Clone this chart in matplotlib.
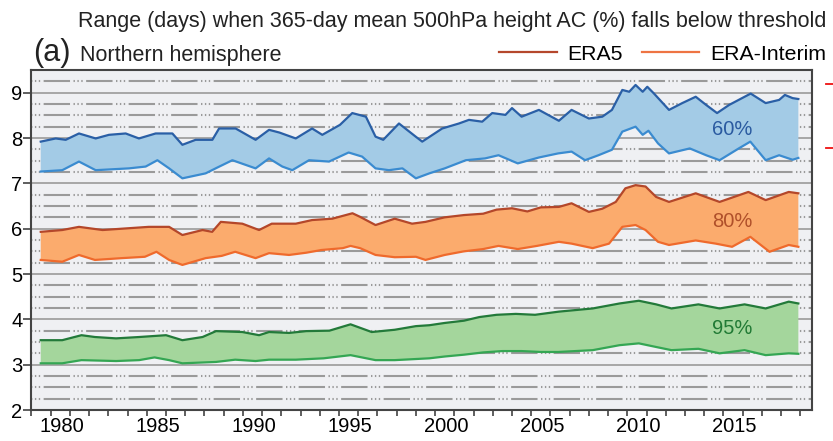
import numpy as np
import matplotlib
matplotlib.use("Agg")
import matplotlib.pyplot as plt
from matplotlib.lines import Line2D

plt.rcParams['font.family'] = ['Liberation Sans', 'DejaVu Sans']
plt.rcParams['lines.scale_dashes'] = False

# ---------------- data ----------------
# 60 % threshold
yr60_era5 = [1979.48, 1980.26, 1980.78, 1981.47, 1982.34, 1983.03, 1983.9, 1984.59, 1985.46, 1986.33,
             1986.85, 1987.54, 1988.41, 1988.76, 1989.62, 1990.66, 1991.36, 1991.9, 1992.75, 1993.6,
             1994.13, 1995.05, 1995.69, 1996.4, 1996.9, 1997.3, 1998.12, 1998.99, 1999.33, 2000.37,
             2001.24, 2001.76, 2002.45, 2002.97, 2003.66, 2004.0, 2004.5, 2005.4, 2006.44, 2007.1,
             2008.0, 2008.7, 2009.2, 2009.74, 2010.1, 2010.43, 2010.8, 2011.04, 2011.39, 2012.17,
             2012.86, 2013.56, 2014.1, 2014.67, 2015.3, 2016.42, 2017.2, 2017.9, 2018.2, 2018.6, 2018.9]
val60_era5 = [7.92, 7.99, 7.96, 8.10, 7.99, 8.07, 8.10, 7.99, 8.10, 8.10,
              7.85, 7.96, 7.96, 8.21, 8.21, 7.96, 8.18, 8.12, 7.99, 8.21,
              8.07, 8.29, 8.55, 8.47, 8.03, 7.96, 8.32, 8.03, 7.92, 8.21,
              8.32, 8.40, 8.36, 8.55, 8.51, 8.66, 8.47, 8.62, 8.38, 8.62,
              8.43, 8.47, 8.62, 9.06, 9.02, 9.17, 9.02, 9.13, 8.98, 8.62,
              8.77, 8.91, 8.73, 8.55, 8.73, 8.98, 8.77, 8.84, 8.95, 8.88, 8.86]
yr60_erai = [1979.48, 1980.6, 1981.47, 1982.34, 1984.07, 1984.94, 1985.55, 1986.16, 1986.85, 1988.06,
             1988.58, 1989.45, 1990.66, 1991.36, 1992.05, 1992.57, 1993.44, 1994.48, 1995.5, 1996.2,
             1996.9, 1997.6, 1998.3, 1999.0, 1999.7, 2000.5, 2001.6, 2002.6, 2003.3, 2004.3,
             2005.4, 2006.4, 2007.1, 2007.8, 2008.5, 2009.2, 2009.74, 2010.43, 2010.8, 2011.1,
             2011.6, 2012.17, 2013.25, 2014.1, 2014.8, 2015.8, 2016.4, 2017.2, 2017.9, 2018.6, 2018.9]
val60_erai = [7.26, 7.29, 7.48, 7.29, 7.33, 7.37, 7.51, 7.33, 7.11, 7.22,
              7.33, 7.51, 7.33, 7.55, 7.37, 7.29, 7.51, 7.48, 7.68, 7.59,
              7.33, 7.29, 7.33, 7.11, 7.22, 7.33, 7.51, 7.55, 7.62, 7.44,
              7.57, 7.66, 7.70, 7.51, 7.62, 7.74, 8.14, 8.25, 8.07, 8.16,
              7.88, 7.66, 7.77, 7.62, 7.51, 7.77, 7.92, 7.51, 7.62, 7.52, 7.56]

# 80 % threshold
yr80_era5 = [1979.48, 1980.6, 1981.47, 1982.7, 1984.07, 1985.1, 1986.16, 1986.85, 1987.9, 1988.4,
             1988.85, 1989.97, 1990.84, 1991.5, 1992.75, 1993.6, 1994.65, 1995.7, 1996.1, 1996.9,
             1997.9, 1998.8, 1999.5, 2000.5, 2001.5, 2002.5, 2003.2, 2004.0, 2004.8, 2005.5,
             2006.44, 2007.1, 2008.0, 2008.7, 2009.4, 2009.9, 2010.43, 2010.95, 2011.5, 2012.17,
             2013.56, 2014.8, 2016.3, 2017.2, 2018.4, 2018.9]
val80_era5 = [5.93, 5.97, 6.04, 5.97, 6.01, 6.04, 6.04, 5.86, 5.97, 5.93,
              6.15, 6.11, 5.97, 6.11, 6.11, 6.19, 6.22, 6.34, 6.26, 6.08,
              6.22, 6.11, 6.15, 6.25, 6.30, 6.33, 6.42, 6.45, 6.38, 6.47,
              6.48, 6.56, 6.37, 6.44, 6.59, 6.89, 6.96, 6.93, 6.70, 6.59,
              6.78, 6.59, 6.81, 6.63, 6.81, 6.78]
yr80_erai = [1979.48, 1980.6, 1981.47, 1982.3, 1983.7, 1984.9, 1985.5, 1986.16, 1986.85, 1988.06,
             1988.9, 1989.6, 1990.66, 1991.36, 1992.4, 1993.3, 1994.1, 1995.2, 1995.6, 1996.1,
             1996.9, 1997.9, 1999.0, 1999.5, 2000.5, 2001.5, 2002.5, 2003.3, 2004.3, 2005.3,
             2006.44, 2007.1, 2008.2, 2009.05, 2009.74, 2010.43, 2010.95, 2011.6, 2012.17, 2013.56,
             2014.6, 2015.45, 2016.4, 2017.4, 2018.4, 2018.9]
val80_erai = [5.31, 5.27, 5.42, 5.31, 5.35, 5.38, 5.49, 5.31, 5.20, 5.35,
              5.40, 5.49, 5.35, 5.46, 5.42, 5.47, 5.53, 5.57, 5.62, 5.57,
              5.42, 5.37, 5.38, 5.31, 5.42, 5.50, 5.55, 5.62, 5.55, 5.62,
              5.71, 5.67, 5.57, 5.67, 6.04, 6.08, 5.97, 5.71, 5.64, 5.74,
              5.67, 5.60, 5.82, 5.49, 5.64, 5.60]

# 95 % threshold
yr95_era5 = [1979.48, 1980.6, 1981.6, 1982.3, 1983.4, 1984.6, 1986.0, 1986.85, 1987.9, 1988.6,
             1989.97, 1990.84, 1991.36, 1992.4, 1993.3, 1994.5, 1995.6, 1996.7, 1997.9, 1999.0,
             1999.7, 2000.5, 2001.5, 2002.3, 2003.2, 2004.2, 2005.2, 2006.44, 2008.2, 2009.6,
             2010.6, 2011.5, 2012.3, 2013.7, 2014.8, 2016.1, 2017.2, 2018.4, 2018.9]
val95_era5 = [3.54, 3.54, 3.65, 3.61, 3.58, 3.61, 3.65, 3.54, 3.61, 3.74,
              3.72, 3.65, 3.72, 3.70, 3.74, 3.75, 3.89, 3.72, 3.77, 3.85,
              3.87, 3.92, 3.97, 4.05, 4.10, 4.12, 4.10, 4.17, 4.24, 4.35,
              4.41, 4.33, 4.24, 4.33, 4.24, 4.33, 4.24, 4.39, 4.35]
yr95_erai = [1979.48, 1980.6, 1981.6, 1983.4, 1984.6, 1985.4, 1986.16, 1986.85, 1988.6, 1989.6,
             1990.66, 1991.36, 1992.75, 1994.2, 1995.6, 1996.9, 1997.9, 1999.7, 2000.5, 2001.5,
             2002.5, 2003.5, 2004.5, 2005.5, 2006.4, 2008.2, 2009.6, 2010.6, 2011.5, 2012.3,
             2013.7, 2014.8, 2016.1, 2017.2, 2018.4, 2018.9]
val95_erai = [3.03, 3.03, 3.10, 3.08, 3.10, 3.16, 3.10, 3.03, 3.06, 3.11,
              3.08, 3.11, 3.11, 3.14, 3.21, 3.10, 3.10, 3.14, 3.18, 3.22,
              3.27, 3.30, 3.30, 3.28, 3.28, 3.32, 3.43, 3.47, 3.39, 3.32,
              3.35, 3.25, 3.32, 3.21, 3.25, 3.24]

band_labels = ['60%', '80%', '95%']
label_year = 2015.45
label_values = [8.18, 6.15, 3.80]
year_labels = [1980, 1985, 1990, 1995, 2000, 2005, 2010, 2015]
yticks = [2, 3, 4, 5, 6, 7, 8, 9]
legend_names = ['ERA5', 'ERA-Interim']

# ---------------- styling ----------------
bands = [
    (yr60_era5, val60_era5, yr60_erai, val60_erai, '#a3cbe6', '#2a5fa6', '#3a8bd0', '#2a5aa0'),
    (yr80_era5, val80_era5, yr80_erai, val80_erai, '#fbab6d', '#b4472a', '#ef6a2c', '#b0502a'),
    (yr95_era5, val95_era5, yr95_erai, val95_erai, '#a4d69c', '#237a3a', '#34a653', '#217a35'),
]

fig = plt.figure(figsize=(8.33, 4.41), dpi=100)
ax = fig.add_axes([31.5 / 833, 1 - 410 / 441, 780.5 / 833, 340 / 441])
ax.set_facecolor('#eff0f3')

for (xu, yu, xl, yl, fc, cu, cl, tc), lab, ly in zip(bands, band_labels, label_values):
    ax.fill(np.concatenate([xu, xl[::-1]]), np.concatenate([yu, yl[::-1]]),
            color=fc, lw=0, zorder=2)
    ax.plot(xl, yl, color=cl, lw=1.6, zorder=3, solid_joinstyle='round')
    ax.plot(xu, yu, color=cu, lw=1.6, zorder=3, solid_joinstyle='round')
    ax.text(label_year, ly, lab, color=tc, fontsize=14.5, ha='center', va='center', zorder=4)

ax.set_xlim(1979.0, 2019.61)
ax.set_ylim(2, 9.5)

# y axis
ax.set_yticks(yticks)
ax.set_yticks(np.arange(2.25, 9.5, 0.25), minor=True)
ax.tick_params(axis='y', which='major', direction='out', length=5.5, width=1.1,
               color='#333333', labelsize=14.5, pad=1)
ax.tick_params(axis='y', which='minor', length=0)
ax.grid(axis='y', which='major', color='#9a9a9a', lw=1.2, ls='-', zorder=0)
ax.grid(axis='y', which='minor', color='#9a9a9a', lw=1.5,
        ls=(0, (1.0, 1.8, 1.0, 1.8, 1.0, 2.5, 19.0, 2.5)), zorder=0)
ax.set_axisbelow(True)

# x axis: yearly ticks, labels at mid-year
ax.set_xticks(np.arange(1979, 2020, 1))
ax.set_xticklabels([])
ax.set_xticks([y + 0.58 for y in year_labels], minor=True)
ax.set_xticklabels([str(y) for y in year_labels], minor=True)
ax.tick_params(axis='x', which='major', direction='out', length=4.5, width=1.1, color='#333333')
ax.tick_params(axis='x', which='minor', length=0, labelsize=14.5, pad=5)

for s in ax.spines.values():
    s.set_color('#444444')
    s.set_linewidth(1.5)

# titles
fig.text(452 / 833, 1 - 26.7 / 441,
         'Range (days) when 365-day mean 500hPa height AC (%) falls below threshold',
         fontsize=15.5, ha='center', va='baseline', color='#222222')
fig.text(33 / 833, 1 - 61.5 / 441, '(a)', fontsize=22, ha='left', va='baseline', color='#222222')
fig.text(80 / 833, 1 - 60.7 / 441, 'Northern hemisphere', fontsize=15.5, ha='left',
         va='baseline', color='#222222')

# legend
handles = [Line2D([], [], color='#b5472c', lw=1.6), Line2D([], [], color='#ee7443', lw=1.6)]
ax.legend(handles, legend_names, loc='center right', bbox_to_anchor=(826 / 833, 1 - 54 / 441),
          bbox_transform=fig.transFigure, ncol=2, frameon=False, fontsize=15.3,
          handlelength=2.7, handletextpad=0.5, columnspacing=0.9, borderaxespad=0,
          borderpad=0)

# red marks at right edge (from neighbouring panel)
for yy in (84, 148):
    fig.add_artist(Line2D([826 / 833, 1.0], [1 - yy / 441] * 2, color='#ee1111', lw=1.3,
                          transform=fig.transFigure))

fig.savefig('out.png', dpi=100)
